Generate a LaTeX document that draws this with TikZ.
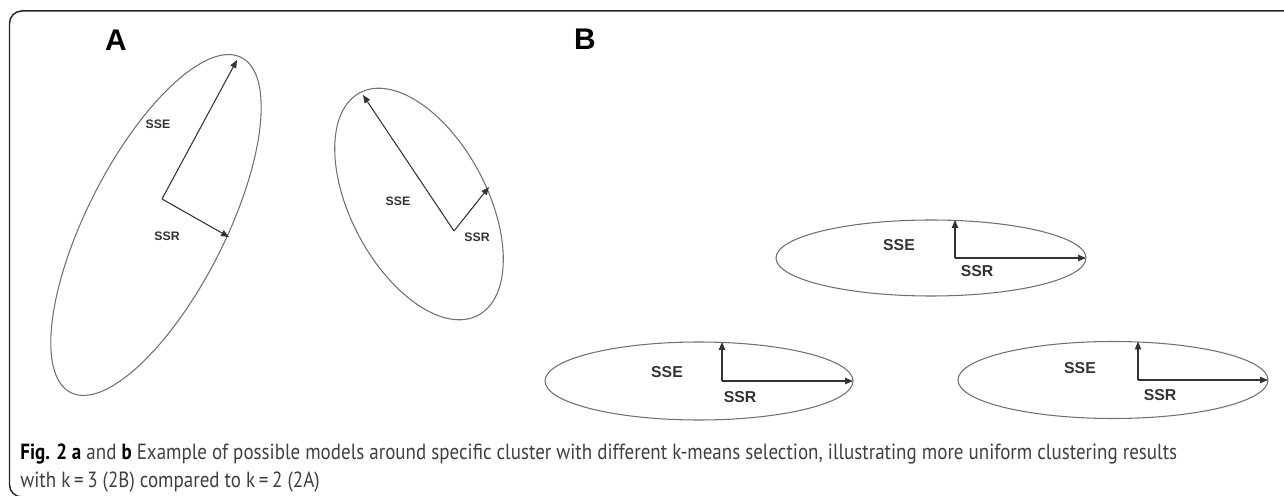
\documentclass[tikz,border=0pt]{standalone}
\usepackage{fontspec}
\setmainfont{Liberation Sans}
\newfontfamily\capfont[FakeStretch=0.865]{PT Sans}
\usetikzlibrary{arrows.meta}
\definecolor{rim}{HTML}{707070}
\definecolor{ink}{HTML}{333333}
\definecolor{captext}{HTML}{404040}
\tikzset{
  cluster/.style={draw=rim, line width=0.6pt},
  vec/.style={-{Triangle[length=4.5pt, width=3.6pt]}, draw=ink, line width=0.6pt},
  panel/.style={font=\bfseries\fontsize{17}{17}\selectfont, inner sep=0pt},
  tagA/.style={font=\bfseries\fontsize{7}{7}\selectfont, text=ink, inner sep=0pt},
  tagB/.style={font=\bfseries\fontsize{9}{9}\selectfont, text=ink, inner sep=0pt},
  frame/.style={draw=black!85, line width=0.85pt, rounded corners=7pt}
}
\begin{document}
\begin{tikzpicture}[x=0.02cm, y=-0.02cm]
  \useasboundingbox (0,0) rectangle (1284,496);
  \clip (0,0) rectangle (1284,496);
  \draw[frame] (9.5,11) rectangle (1320,497);

  \node[panel] (panA) at (116,40) {A};
  \node[panel] (panB) at (585,39) {B};

  \draw[cluster, rotate around={63:(156,225)}] (156,225) ellipse [x radius=188, y radius=69];
  \coordinate (a1o) at (162,199);
  \coordinate (a1e) at (237,60);
  \coordinate (a1r) at (229,237);
  \draw[vec] (a1o) -- (a1e);
  \draw[vec] (a1o) -- (a1r);
  \node[tagA] (a1sse) at (158,124) {SSE};
  \node[tagA] (a1ssr) at (167,236) {SSR};

  \draw[cluster, rotate around={118:(419,204)}] (419,204) ellipse [x radius=126, y radius=68];
  \coordinate (a2o) at (454,231);
  \coordinate (a2e) at (363,95);
  \coordinate (a2r) at (489,187);
  \draw[vec] (a2o) -- (a2e);
  \draw[vec] (a2o) -- (a2r);
  \node[tagA] (a2sse) at (398,201) {SSE};
  \node[tagA] (a2ssr) at (477,237) {SSR};

  \draw[cluster] (931,258) ellipse [x radius=155, y radius=38];
  \coordinate (b1o) at (955,258);
  \coordinate (b1e) at (955,220);
  \coordinate (b1r) at (1086,258);
  \draw[vec] (b1o) -- (b1e);
  \draw[vec] (b1o) -- (b1r);
  \node[tagB] (b1sse) at (899,245) {SSE};
  \node[tagB] (b1ssr) at (977,271) {SSR};

  \draw[cluster] (699,381) ellipse [x radius=154, y radius=39];
  \coordinate (b2o) at (722,381);
  \coordinate (b2e) at (722,342);
  \coordinate (b2r) at (853,381);
  \draw[vec] (b2o) -- (b2e);
  \draw[vec] (b2o) -- (b2r);
  \node[tagB] (b2sse) at (667,372) {SSE};
  \node[tagB] (b2ssr) at (740,397) {SSR};

  \draw[cluster] (1113,380) ellipse [x radius=155, y radius=38.5];
  \coordinate (b3o) at (1138,380);
  \coordinate (b3e) at (1138,341.5);
  \coordinate (b3r) at (1268,380);
  \draw[vec] (b3o) -- (b3e);
  \draw[vec] (b3o) -- (b3r);
  \node[tagB] (b3sse) at (1080,368) {SSE};
  \node[tagB] (b3ssr) at (1160,395) {SSR};

  \node[anchor=north west, inner sep=0pt, align=left, text=captext,
        font=\capfont\fontsize{12.5}{16}\selectfont] (cap) at (20,443)
    {\textbf{\color{black}Fig. 2 a} and \textbf{\color{black}b} Example of possible models around specific cluster with different k-means selection, illustrating more uniform clustering results\\with k\,=\,3 (2B) compared to k\,=\,2 (2A)};
\end{tikzpicture}
\end{document}
